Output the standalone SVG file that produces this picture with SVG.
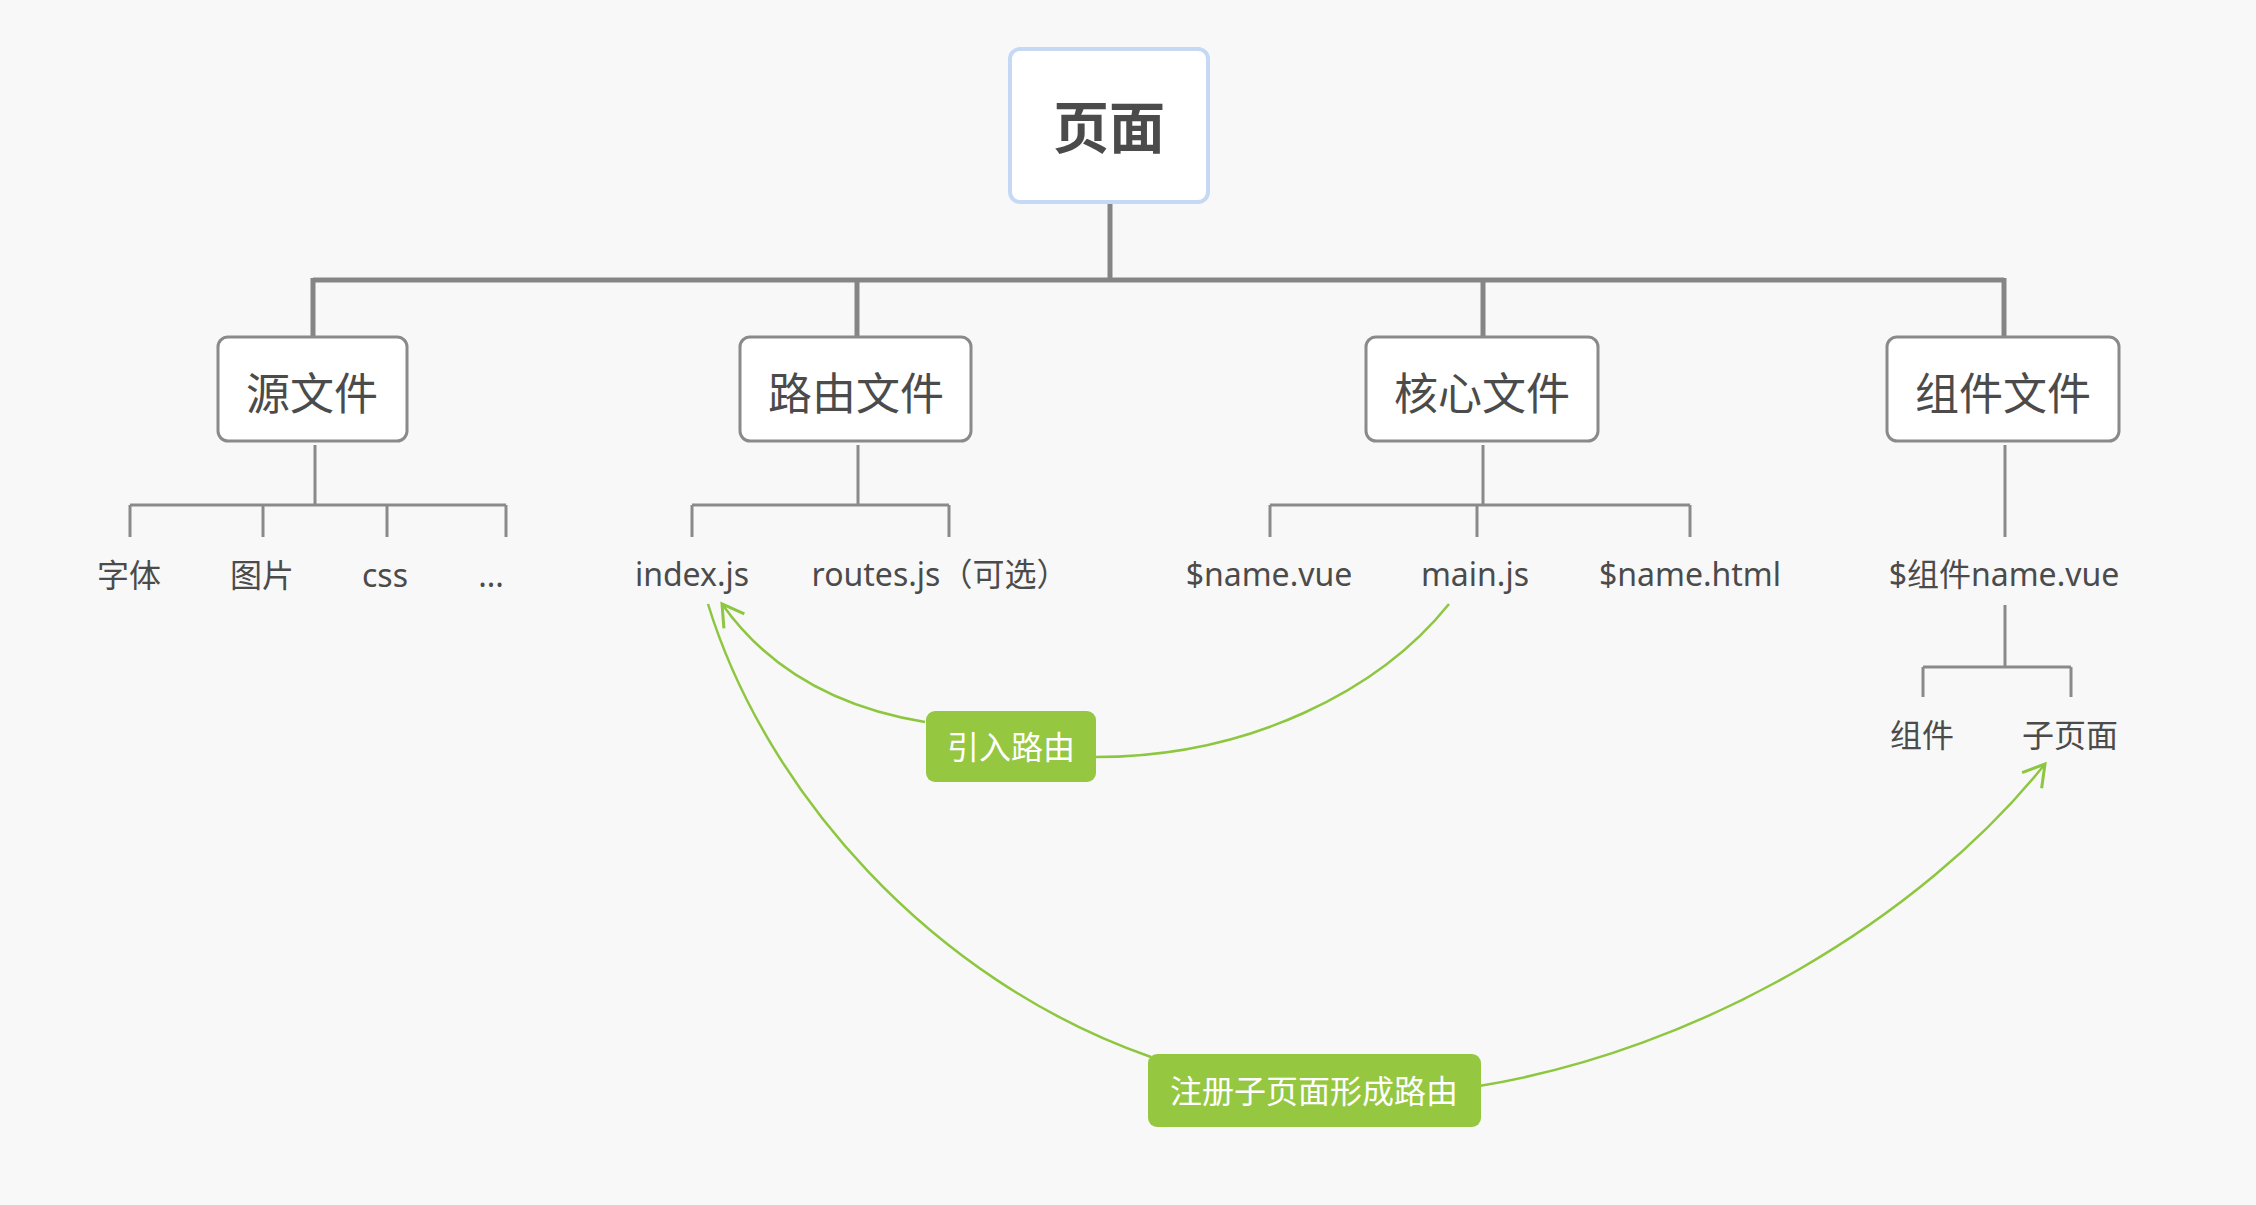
<svg xmlns="http://www.w3.org/2000/svg" width="2256" height="1205" viewBox="0 0 2256 1205">
<defs>
<style>
text{font-family:"Noto Sans","Noto Sans CJK SC",sans-serif;text-anchor:middle;fill:#4b4b4b}
.root{font-size:56px;font-weight:bold}
.l1{font-size:44px}
.leaf{font-size:32px}
.lbl{font-size:32px;fill:#ffffff}
.box{fill:#ffffff;stroke:#8a8a8a;stroke-width:3}
.trunk{fill:none;stroke:#858585;stroke-width:5}
.br{fill:none;stroke:#8a8a8a;stroke-width:3}
.rel{fill:none;stroke:#8dc63f;stroke-width:2.5}
.tag{fill:#95c840}
</style>
<marker id="arr" markerUnits="userSpaceOnUse" viewBox="-26 -16 30 32" refX="0" refY="0" markerWidth="30" markerHeight="32" orient="auto">
<path d="M-21,-12.5 L0,0 L-21,12.5" fill="none" stroke="#8dc63f" stroke-width="3"/>
</marker>
</defs>
<rect width="2256" height="1205" fill="#f8f8f8"/>
<g id="connectors">
<path class="trunk" d="M1110,204 V280 M313,280 H2004 M313,278 V336 M857,278 V336 M1483,278 V336 M2004,278 V336"/>
<path class="br" d="M315,445 V505 M130,505 H506 M130,505 V537 M263,505 V537 M387,505 V537 M506,505 V537"/>
<path class="br" d="M858,445 V505 M692,505 H949 M692,505 V537 M949,505 V537"/>
<path class="br" d="M1483,445 V505 M1270,505 H1690 M1270,505 V537 M1477,505 V537 M1690,505 V537"/>
<path class="br" d="M2005,445 V537 M2005,605 V667 M1923,667 H2071 M1923,667 V697 M2071,667 V697"/>
<path class="rel" d="M1449,604 C1380,690 1250,757 1095,757"/>
<path class="rel" d="M925,722 Q790,700 722,604" marker-end="url(#arr)"/>
<path class="rel" d="M708,604 C765,790 930,980 1151,1057"/>
<path class="rel" d="M1479,1086 C1700,1050 1920,920 2045,764" marker-end="url(#arr)"/>
</g>
<g id="root">
<rect x="1010" y="49" width="198" height="153" rx="10" fill="#ffffff" stroke="#c5d9f5" stroke-width="4"/>
<text class="root" x="1109" y="148">页面</text>
</g>
<g id="n-src">
<rect class="box" x="218" y="337" width="189" height="104" rx="10"/>
<text class="l1" x="312" y="410">源文件</text>
</g>
<g id="n-route">
<rect class="box" x="740" y="337" width="231" height="104" rx="10"/>
<text class="l1" x="856" y="410">路由文件</text>
</g>
<g id="n-core">
<rect class="box" x="1366" y="337" width="232" height="104" rx="10"/>
<text class="l1" x="1482" y="410">核心文件</text>
</g>
<g id="n-comp">
<rect class="box" x="1887" y="337" width="232" height="104" rx="10"/>
<text class="l1" x="2003" y="410">组件文件</text>
</g>
<g id="leaf-font"><text class="leaf" x="129" y="587">字体</text></g>
<g id="leaf-img"><text class="leaf" x="262" y="587">图片</text></g>
<g id="leaf-css"><text class="leaf" x="385" y="587">css</text></g>
<g id="leaf-more"><text class="leaf" x="491" y="587">...</text></g>
<g id="leaf-index"><text class="leaf" x="692" y="586">index.js</text></g>
<g id="leaf-routes"><text class="leaf" x="940" y="586">routes.js（可选）</text></g>
<g id="leaf-namevue"><text class="leaf" x="1269" y="586">$name.vue</text></g>
<g id="leaf-main"><text class="leaf" x="1475" y="586">main.js</text></g>
<g id="leaf-namehtml"><text class="leaf" x="1690" y="586">$name.html</text></g>
<g id="leaf-compvue"><text class="leaf" x="2004" y="586">$组件name.vue</text></g>
<g id="leaf-comp"><text class="leaf" x="1922" y="747">组件</text></g>
<g id="leaf-sub"><text class="leaf" x="2070" y="747">子页面</text></g>
<g id="tag-import">
<rect class="tag" x="926" y="711" width="170" height="71" rx="9"/>
<text class="lbl" x="1011" y="759">引入路由</text>
</g>
<g id="tag-register">
<rect class="tag" x="1148" y="1054" width="333" height="73" rx="9"/>
<text class="lbl" x="1314" y="1103">注册子页面形成路由</text>
</g>
</svg>
